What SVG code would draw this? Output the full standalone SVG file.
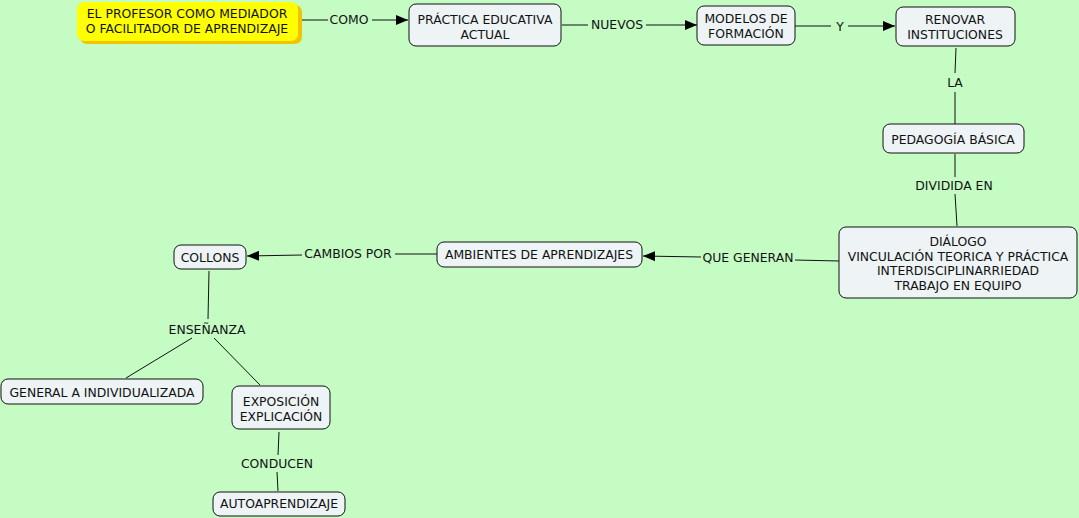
<svg xmlns="http://www.w3.org/2000/svg" width="1079" height="518" viewBox="0 0 1079 518">
<defs>
<marker id="arr" viewBox="0 0 12 10" refX="12" refY="5" markerWidth="12" markerHeight="10" markerUnits="userSpaceOnUse" orient="auto">
<path d="M0,0 L12,5 L0,10 Z" fill="#000"/>
</marker>
</defs>
<style>
text{font-family:"DejaVu Sans",Verdana,sans-serif;font-size:12.4px;fill:#111;text-anchor:middle;dominant-baseline:central}
.n{fill:#eef3f6;stroke:#111;stroke-width:1}
.c{stroke:#111;stroke-width:1;fill:none}
</style>
<rect width="1079" height="518" fill="#c4fcc4"/>
<g id="connectors">
<line class="c" x1="300" y1="20" x2="328" y2="20"/>
<text x="349" y="19">COMO</text>
<line class="c" x1="372" y1="20" x2="408" y2="20" marker-end="url(#arr)"/>
<line class="c" x1="562" y1="25" x2="588" y2="25"/>
<text x="617" y="24">NUEVOS</text>
<line class="c" x1="646" y1="25" x2="697" y2="25" marker-end="url(#arr)"/>
<line class="c" x1="795" y1="26" x2="831" y2="26"/>
<text x="840" y="26">Y</text>
<line class="c" x1="848" y1="26" x2="895" y2="26" marker-end="url(#arr)"/>
<line class="c" x1="956" y1="48" x2="955" y2="73"/>
<text x="955" y="82">LA</text>
<line class="c" x1="955" y1="92" x2="955" y2="124"/>
<line class="c" x1="955" y1="154" x2="955" y2="177"/>
<text x="954" y="185">DIVIDIDA EN</text>
<line class="c" x1="955" y1="194" x2="957" y2="226"/>
<line class="c" x1="839" y1="261" x2="795" y2="260"/>
<text x="748" y="257">QUE GENERAN</text>
<line class="c" x1="701" y1="257" x2="643" y2="256" marker-end="url(#arr)"/>
<line class="c" x1="437" y1="254" x2="395" y2="254"/>
<text x="348" y="253">CAMBIOS POR</text>
<line class="c" x1="302" y1="255" x2="247" y2="256" marker-end="url(#arr)"/>
<line class="c" x1="209" y1="271" x2="208" y2="319"/>
<text x="207" y="329">ENSEÑANZA</text>
<line class="c" x1="192" y1="338" x2="126" y2="378"/>
<line class="c" x1="214" y1="338" x2="260" y2="385"/>
<line class="c" x1="279" y1="432" x2="278" y2="455"/>
<text x="277" y="463">CONDUCEN</text>
<line class="c" x1="277" y1="472" x2="278" y2="491"/>
</g>
<g id="n1">
<rect x="80" y="5" width="222" height="39" rx="7" fill="#f2c400"/>
<rect x="77" y="2" width="221" height="39" rx="7" fill="#ffff00"/>
<text x="187" y="13">EL PROFESOR COMO MEDIADOR</text>
<text x="187" y="28">O FACILITADOR DE APRENDIZAJE</text>
</g>
<g id="n2">
<rect class="n" x="409" y="4" width="152" height="42" rx="7"/>
<text x="485" y="19">PRÁCTICA EDUCATIVA</text>
<text x="485" y="34">ACTUAL</text>
</g>
<g id="n3">
<rect class="n" x="697" y="6" width="98" height="39" rx="7"/>
<text x="746" y="18">MODELOS DE</text>
<text x="746" y="33">FORMACIÓN</text>
</g>
<g id="n4">
<rect class="n" x="896" y="7" width="119" height="39" rx="7"/>
<text x="955" y="19">RENOVAR</text>
<text x="955" y="34">INSTITUCIONES</text>
</g>
<g id="n5">
<rect class="n" x="883" y="124" width="141" height="29" rx="7"/>
<text x="953" y="139">PEDAGOGÍA BÁSICA</text>
</g>
<g id="n6">
<rect class="n" x="839" y="227" width="238" height="71" rx="7"/>
<text x="958" y="241">DIÁLOGO</text>
<text x="958" y="256">VINCULACIÓN TEORICA Y PRÁCTICA</text>
<text x="958" y="270">INTERDISCIPLINARRIEDAD</text>
<text x="958" y="285">TRABAJO EN EQUIPO</text>
</g>
<g id="n7">
<rect class="n" x="437" y="242" width="205" height="25" rx="7"/>
<text x="539" y="254">AMBIENTES DE APRENDIZAJES</text>
</g>
<g id="n8">
<rect class="n" x="174" y="245" width="72" height="24" rx="7"/>
<text x="210" y="257">COLLONS</text>
</g>
<g id="n9">
<rect class="n" x="1" y="379" width="202" height="25" rx="7"/>
<text x="102" y="392">GENERAL A INDIVIDUALIZADA</text>
</g>
<g id="n10">
<rect class="n" x="232" y="386" width="98" height="43" rx="7"/>
<text x="281" y="401">EXPOSICIÓN</text>
<text x="281" y="416">EXPLICACIÓN</text>
</g>
<g id="n11">
<rect class="n" x="213" y="492" width="132" height="24" rx="7"/>
<text x="279" y="503">AUTOAPRENDIZAJE</text>
</g>
</svg>
